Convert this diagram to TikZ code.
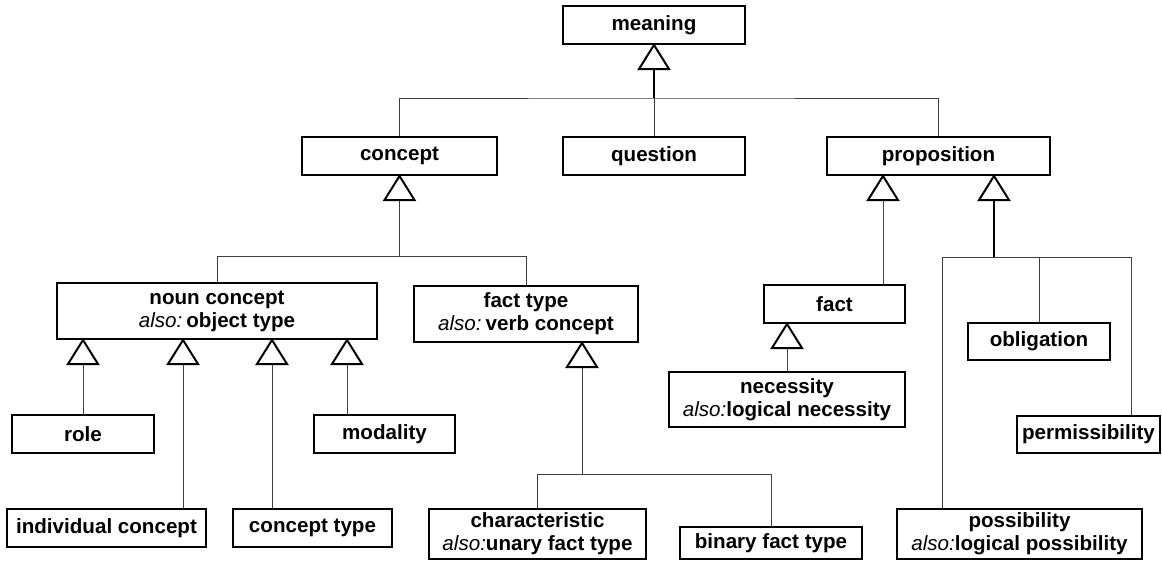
\documentclass[tikz,border=0pt]{standalone}
\usepackage{fontspec}
\setmainfont{Liberation Sans}
\usetikzlibrary{calc}
\newcommand\alsotag{\textit{\mdseries also:}}
\begin{document}
\begin{tikzpicture}[x=0.5pt,y=-0.5pt,
  box/.style={draw=black, line width=1pt, fill=white, inner sep=0pt, align=center,
    font=\fontsize{10.3}{11.5}\selectfont\bfseries},
  conn/.style={draw=black!75, line width=0.5pt},
  bold conn/.style={draw=black, line width=1pt},
  inh/.pic={\draw[line width=1pt, fill=white, line join=miter] (0,0) -- (-15,24) -- (15,24) -- cycle;},
]
\useasboundingbox (0,0) rectangle (1162,564);

% classes
\node[box, minimum width=91pt,   minimum height=19pt]   (meaning)        at (654,25)     {meaning};
\node[box, minimum width=91pt,   minimum height=19pt]   (question)       at (654,156)    {question};
\node[box, minimum width=97.5pt, minimum height=19pt]   (concept)        at (399.5,156)  {concept};
\node[box, minimum width=111.5pt,minimum height=19pt]   (proposition)    at (938.5,156)  {proposition};
\node[box, minimum width=160pt,  minimum height=28pt]   (noun)           at (217,311)    {noun concept\\\alsotag\hspace{2pt}object type};
\node[box, minimum width=112pt,  minimum height=28pt]   (facttype)       at (526,314)    {fact type\\\alsotag\hspace{2pt}verb concept};
\node[box, minimum width=71pt,   minimum height=19pt]   (role)           at (83,434)     {role};
\node[box, minimum width=70.5pt, minimum height=19pt]   (modality)       at (384.5,434)  {modality};
\node[box, minimum width=99.5pt, minimum height=19pt]   (individual)     at (106.5,528)  {individual concept};
\node[box, minimum width=79.5pt, minimum height=19pt]   (ctype)          at (312.5,528)  {concept type};
\node[box, minimum width=108.5pt,minimum height=25pt]   (characteristic) at (537.5,534)  {characteristic\\\alsotag{}unary fact type};
\node[box, minimum width=91pt,   minimum height=16pt]   (binary)         at (771,543)    {binary fact type};
\node[box, minimum width=70.5pt, minimum height=19pt]   (fact)           at (834.5,304)  {fact};
\node[box, minimum width=118pt,  minimum height=27.5pt] (necessity)      at (787,399.5)  {necessity\\\alsotag{}logical necessity};
\node[box, minimum width=71pt,   minimum height=18.5pt] (obligation)     at (1039,341.5) {obligation};
\node[box, minimum width=71.5pt, minimum height=18.5pt] (permissibility) at (1088.5,434.5){permissibility};
\node[box, minimum width=122.5pt,minimum height=25pt]   (possibility)    at (1019.5,534) {possibility\\\alsotag{}logical possibility};

% meaning and its specialisations
\coordinate (bus0) at ($(meaning.south)+(0,53)$);
\draw[bold conn] ($(meaning.south)+(0,24)$) -- (bus0);
\draw[conn] (bus0) -- (question.north);
\draw[conn] (concept.north) |- (bus0) -| (proposition.north);
\pic at (meaning.south) {inh};

% concept
\coordinate (bus1) at ($(concept.south)+(0,80)$);
\draw[conn] ($(concept.south)+(0,24)$) -- (bus1);
\draw[conn] (noun.north) |- (bus1) -| (facttype.north);
\pic at (concept.south) {inh};

% noun concept
\coordinate (n1) at (noun.south -| role.north);
\coordinate (n2) at ($(noun.south west)+(127,0)$);
\coordinate (n3) at ($(noun.south west)+(216,0)$);
\coordinate (n4) at ($(noun.south west)+(291,0)$);
\foreach \c/\child in {n1/role, n2/individual, n3/ctype, n4/modality} {
  \draw[conn] ($(\c)+(0,24)$) -- (\c |- \child.north);
  \pic at (\c) {inh};
}

% fact type
\coordinate (f0) at ($(facttype.south)+(56,0)$);
\coordinate (bus3) at ($(f0)+(0,131)$);
\draw[conn] ($(f0)+(0,24)$) -- (bus3);
\draw[conn] (characteristic.north) |- (bus3) -| (binary.north);
\pic at (f0) {inh};

% proposition
\coordinate (p1) at ($(proposition.south)+(-55.5,0)$);
\coordinate (p2) at ($(proposition.south)+(55.5,0)$);
\draw[conn] ($(p1)+(0,24)$) -- (p1 |- fact.north);
\pic at (p1) {inh};

\coordinate (bus4) at ($(p2)+(0,81)$);
\coordinate (pos1) at ($(possibility.north west)+(46,0)$);
\coordinate (perm1) at ($(permissibility.north west)+(115,0)$);
\draw[bold conn] ($(p2)+(0,24)$) -- (bus4);
\draw[conn] (pos1) |- (perm1 |- bus4) -- (perm1);
\draw[conn] (obligation.north) -- (obligation.north |- bus4);
\pic at (p2) {inh};

% fact
\coordinate (fa) at (fact.south -| necessity.north);
\draw[conn] ($(fa)+(0,24)$) -- (necessity.north);
\pic at (fa) {inh};
\end{tikzpicture}
\end{document}
